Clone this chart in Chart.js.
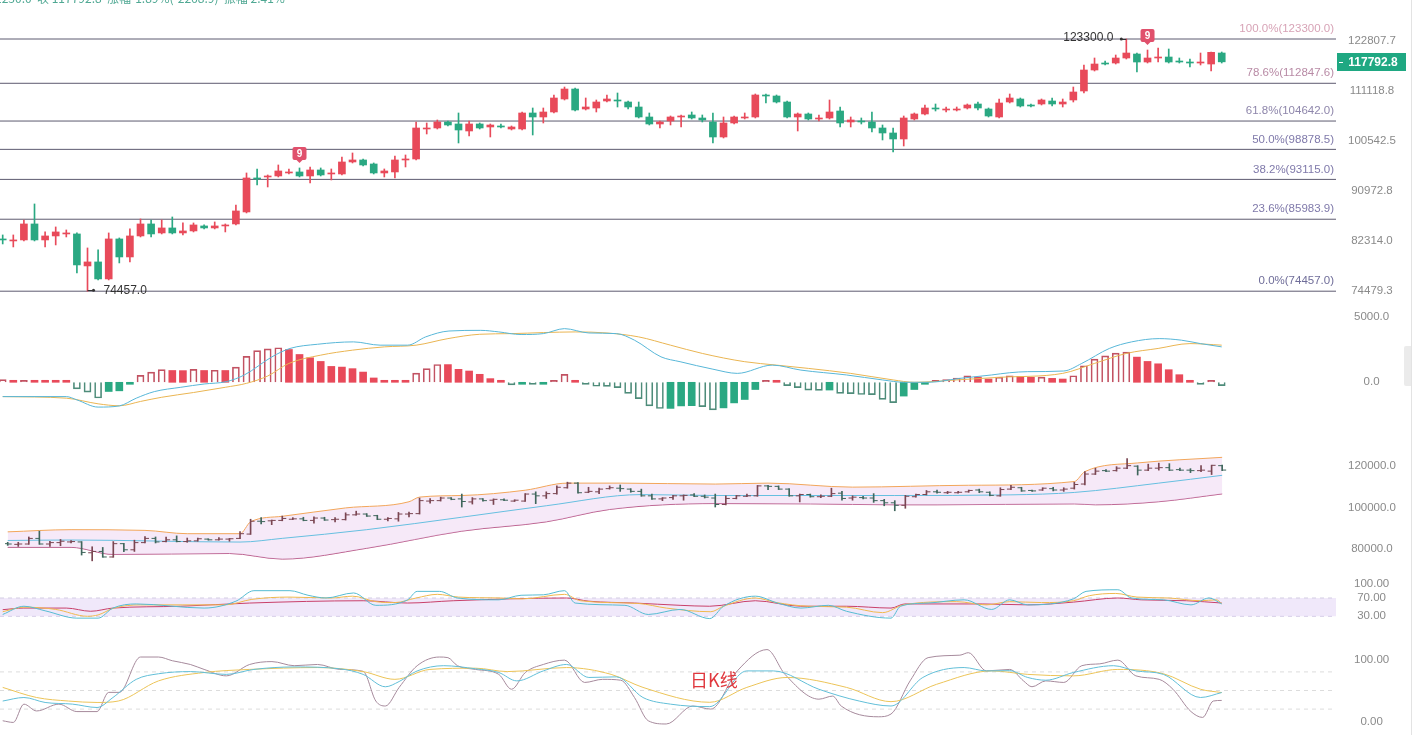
<!DOCTYPE html>
<html lang="zh">
<head>
<meta charset="utf-8">
<title>日K线</title>
<script src="https://cdn.jsdelivr.net/npm/chart.js@4.4.1/dist/chart.umd.min.js"></script>
<style>
  html, body { margin: 0; padding: 0; background: #fff; overflow: hidden; }
  #wrap { position: relative; width: 1421px; height: 735px; overflow: hidden; background: #fff; }
  .pane { position: absolute; left: 0; }
  .pane canvas { display: block; }
  #quote { position: absolute; left: -5px; top: -9px; font: 12px "Noto Sans CJK SC", "Liberation Sans", sans-serif; color: #4fa893; white-space: nowrap; line-height: 14px; }
  #period { position: absolute; left: 690px; top: 666px; font: 18px "Noto Sans CJK SC", sans-serif; color: #e0383e; }
  #rail { position: absolute; left: 1411px; top: 0; width: 1px; height: 735px; background: #e3e3e3; }
  #grip { position: absolute; left: 1404px; top: 346px; width: 7px; height: 40px; background: #ebebeb; border-radius: 2px 0 0 2px; }
</style>
</head>
<body>
<div id="wrap">
  <div class="pane" style="top:0"><canvas id="priceChart" width="1421" height="300"></canvas></div>
  <div class="pane" style="top:300px"><canvas id="macdChart" width="1421" height="130"></canvas></div>
  <div class="pane" style="top:430px"><canvas id="bollChart" width="1421" height="145"></canvas></div>
  <div class="pane" style="top:575px"><canvas id="rsiChart" width="1421" height="65"></canvas></div>
  <div class="pane" style="top:640px"><canvas id="kdjChart" width="1421" height="95"></canvas></div>
  <div id="quote">1230.0 &nbsp;收 117792.8 &nbsp;涨幅-1.89%(-2268.9) &nbsp;振幅 2.41%</div>
  <div id="period">日K线</div>
  <div id="rail"></div>
  <div id="grip"></div>
</div>
<script>
// daily candles (oldest first)
const opens = [82659,82330,82494,85176,82494,83157,83490,83490,78316,78945,
  76306,82659,79736,83157,85176,83657,84498,83657,83993,84836,
  84498,84836,85176,87244,93381,93568,93756,94320,94509,93756,
  94887,94131,94131,96417,96803,96032,94320,94509,96803,96996,
  102993,103199,104445,104028,102582,104028,103406,103613,102993,102993,
  106341,105494,106554,109359,111564,107194,107408,108923,109141,108705,
  107623,105494,104028,104654,105494,105917,105283,104445,101359,104236,
  105283,105494,110237,110017,108705,105494,106129,105073,105283,106767,
  104445,104654,104445,103199,102173,100954,105073,106129,107408,106980,
  106980,107408,108271,107194,105494,108705,109359,108055,108271,108923,
  108271,109141,111123,115888,117521,117521,118703,119656,117756,118703,
  118940,117992,117756,117521,117286,119895];
const highs = [83323,83323,85857,88651,83825,84667,84160,83657,81185,80861,
  83657,82825,84329,86029,85857,85857,86374,85347,85347,85006,
  85518,85176,88474,94320,95077,93943,95840,95077,95267,95458,
  95267,95077,97385,98168,96996,96224,95077,97580,97776,104445,
  104236,104863,104654,106341,104654,104236,104028,104028,103613,106554,
  107408,107408,110237,112011,111787,109578,109141,110237,110679,108923,
  108705,106341,104654,105705,105917,106554,105917,106341,105494,105705,
  106341,110458,110458,110237,108923,106341,106341,105917,109141,107623,
  105494,105283,106554,103820,103199,105705,106341,108055,108271,107623,
  107623,108271,108705,107408,109359,110458,109578,108271,109359,109578,
  109359,112011,117052,118703,117992,119417,123300,119895,120617,121100,
  120858,118703,118466,119895,120135,120135];
const lows = [81837,81348,82330,82330,81348,81674,82991,77227,74457,76154,
  76154,78787,78945,82991,82991,83490,83490,83323,83825,84329,
  84329,83825,85006,87070,92083,91715,93568,94131,93568,92452,
  93756,93009,93943,96224,95649,94131,93568,93381,95458,96803,
  101969,102993,103613,100150,101562,102993,101359,103199,102788,102788,
  101765,104236,106341,109141,106767,106980,106554,108705,107623,107194,
  105283,103820,103199,103820,103406,105073,104445,100150,101156,104028,
  105073,105283,108488,108488,105283,102582,104863,104654,105073,103406,
  103406,104028,102377,100753,98364,99551,104863,105917,106767,106554,
  106767,107194,106980,105494,105283,108488,107623,107623,108055,107839,
  107623,108705,110679,115656,117052,117286,118466,115425,117521,117756,
  117521,117521,116585,117052,115656,117521];
const closes = [82494,82494,85176,82494,83157,83825,83657,78473,78945,76306,
  82659,79736,83157,85176,83490,84498,83657,83993,85006,84498,
  84836,85006,87419,93381,93195,93756,94698,94509,93756,94887,
  93943,94320,96417,96803,95840,94320,94698,96803,96996,103199,
  103199,104445,103820,102788,104028,103199,103820,103406,103406,106341,
  105494,106554,109578,111564,106980,107623,108705,109359,108923,107623,
  105494,104028,104445,105494,105705,105283,104863,101359,104236,105494,
  105494,110237,110017,108705,105494,106129,105073,105283,106554,104236,
  104863,104445,103199,102173,100954,105283,106129,107408,107194,107194,
  107194,108055,107408,105705,108488,109578,107839,107839,109141,108271,
  108705,110901,115888,117286,117286,118703,119895,117756,118703,118940,
  117756,117756,117521,117756,120061.7,117792.8];

// fibonacci retracement between the 74457.0 low and the 123300.0 high
const fibPercents = [100.0, 78.6, 61.8, 50.0, 38.2, 23.6, 0.0];
const fibLevels = [123300.0, 112847.6, 104642.0, 98878.5, 93115.0, 85983.9, 74457.0];
const nineMarks = [28, 108];

// MACD histogram per candle, DIF / DEA read at points [candle, value]
const macdHist = [200,60,150,60,50,40,30,-500,-750,-1200,
  -700,-650,-100,530,780,960,900,890,990,900,
  920,900,1160,1970,2420,2550,2630,2500,2120,1870,
  1590,1210,1160,1040,780,330,80,60,50,700,
  1040,1360,1350,990,860,610,280,100,-200,-50,
  -60,-40,150,600,150,-50,-300,-310,-400,-850,
  -1250,-1800,-2000,-1990,-1800,-1780,-1850,-2100,-1950,-1570,
  -1310,-550,80,70,-250,-400,-600,-610,-590,-850,
  -860,-930,-940,-1300,-1550,-1050,-550,-50,50,200,
  330,500,400,250,400,500,450,380,400,300,
  250,500,1260,1770,2020,2220,2300,1920,1590,1410,
  960,580,150,-100,80,-250];
const difPts = [[0,-1090],[6,-1090],[7,-1340],[9,-1890],[11,-1800],[12.6,-1210],[14.3,-710],[16.8,-380],[19,-130],[21.1,50],
  [22.8,560],[25.4,1940],[27.1,2580],[29.7,2900],[33.1,3080],[35.6,2830],[38.2,2830],[39.9,3460],[42.1,3910],[45.1,3960],
  [46.8,3840],[48.9,3640],[51,3710],[53,4090],[55.3,3760],[57.9,3710],[59.6,3210],[62.1,1940],[63.9,1570],[67,1000],
  [69.3,680],[72.6,1310],[75.3,930],[79.6,560],[83,180],[85.1,0],[87.3,0],[90.3,300],[93.3,560],[95,730],
  [96.7,810],[100.1,860],[101.8,1440],[104.4,2580],[106.5,3080],[109.1,3330],[111.2,3210],[113,2950],[115,2700]];
const deaPts = [[0,-1090],[6,-1210],[9,-1640],[11,-1790],[13,-1460],[15,-1140],[18,-780],[21,-380],[23,-80],[25,480],
  [27,1440],[30,2070],[33,2450],[36,2700],[39,2830],[42,3330],[45,3660],[48,3710],[51,3790],[54,3840],
  [57,3760],[60,3460],[63,2830],[66,2200],[70,1570],[73,1310],[76,1060],[80,680],[84,180],[86,0],
  [90,180],[94,380],[100,680],[103,1440],[106,2200],[109,2580],[112,2950],[115,2830]];

// Bollinger bands [candle, value]
const bollUpper = [[0,88300],[6,89340],[13,89000],[17,87420],[22,87420],[23,93070],[26,95730],[32,99730],[38,102670],[39,104890],
  [43,105650],[49,108180],[53,111560],[58,111560],[67,111110],[72,111560],[80,109650],[91,110540],[101,112320],[102,117060],
  [107,121200],[115,123870]];
const bollMid = [[0,84180],[6,84400],[22,83430],[26,85200],[34,89340],[43,95290],[51,100760],[60,106090],[67,105650],[84,105650],
  [95,105960],[101,107110],[109,111560],[115,115290]];
const bollLower = [[0,80890],[6,80890],[10,77510],[21,77960],[26,75290],[34,80450],[43,88620],[51,93070],[57,98980],[67,101800],
  [76,101640],[84,101200],[88,101200],[101,101640],[103,101200],[109,102670],[115,106400]];

// RSI 6 / 12 / 24 [candle, value]
const rsi6 = [[0,34],[2,52],[4,42],[7,26],[9,26],[10.4,48],[12.6,57],[19,48],[22,63],[23.7,86],
  [27.1,86],[28.8,76],[30.5,70],[33.1,81],[35.2,54],[38.2,66],[39.1,84.5],[41.2,84.5],[42.9,70],[46.8,66],
  [48.9,76],[51,77],[53,86],[54,59],[58.7,54],[60.9,34],[63.9,45],[66.7,25],[68,52],[71,74],
  [73.1,59],[75.3,48],[77.9,54],[79.6,41],[83.8,26],[84.7,52],[87.3,59],[90.7,66],[93.3,45],[95,66],
  [96.7,55],[101,68],[102.2,84.5],[105.2,88],[106.5,70],[109.5,66],[112.1,55],[113.8,70],[115,57]];
const rsi12 = [[0,40],[2,50],[5,45],[8,30],[9,33],[10.5,48],[13,55],[17,55],[21,55],[23.5,67],
  [27,72],[31,70],[33,74],[35.2,62],[37,60],[39,70],[41,78],[43,72],[47,70],[49,68],
  [53,78],[54.5,64],[60,58],[62.6,48],[66.8,40],[68,52],[71,70],[73,60],[76,52],[79.6,50],
  [83,38],[85,55],[90,62],[92.8,55],[95,62],[98,60],[101,64],[102.5,75],[105,80],[107,72],
  [110,70],[113,64],[114.5,66],[115,58]];
const rsi24 = [[0,44.5],[2,48],[6,48],[8.3,41],[10.4,48],[16.8,52],[23.3,59],[34,64],[38.2,59],[42.5,64],
  [53.2,70],[55.3,63],[59.6,59],[63.9,54],[66.7,52],[71,64],[75.3,52],[79.6,52],[83.8,48],[85.1,57],
  [92.4,57],[96.7,55],[101,61],[105.2,70],[107.4,66],[111.7,64],[115,59]];

// KDJ [candle, value]
const kLine = [[0,33],[2,38.7],[4,30.7],[6.6,28],[8.9,22.6],[10.4,38.7],[12.6,68],[14.7,77],[17.7,80.5],[21.1,76],
  [23.7,84],[27.5,88],[31.8,85],[34,76],[36.1,56],[37.4,64.5],[39.1,81.6],[41.6,90],[44.6,85],[46.8,79],
  [48.5,65.5],[51,81.6],[53.2,92],[55.3,71],[57.9,72],[60.4,38.7],[63,28],[66.7,24],[70.2,81.6],[72.7,81.6],
  [77,52],[80.8,33],[83.8,25],[86.8,71],[90.7,87],[92.8,81.6],[95,82],[96.7,71],[98.4,66.6],[101,79],
  [104.8,90],[106.9,81.6],[109.5,76],[113,38.7],[115,46.7]];
const dLine = [[0,55],[3.2,38.7],[6.2,33],[8.9,30.7],[10.9,33],[14.7,65.5],[19,79],[23.3,84],[29.7,87],[34,80.5],
  [37,68],[40.3,84],[44.6,86],[47.6,80.5],[53.2,87],[57.4,76],[60.4,55],[66.7,31],[70.2,55],[74,71],
  [79.6,55],[83.8,32],[88.1,60],[93.3,81.6],[96.7,76],[101,73.6],[105.2,84],[109.5,77],[113,52],[115,46.7]];
const jLine = [[0,1.2],[1,-1.5],[2,28],[3.2,17],[5.3,28],[7,16],[8.9,16],[10,47],[11,47],[13,104],
  [14.7,104],[16,98],[17.7,92],[19,84],[21.1,73.6],[23.3,92],[25.4,96.6],[27.5,90],[29.7,92],[31.8,84],
  [34,81],[35.2,33],[36.1,25],[37.4,55],[39.1,90],[41.2,104],[42,103],[42.9,90],[44.6,84],[46.8,76],
  [48,52],[49.3,79],[51,92],[53,99],[54.9,63],[56.6,68],[58.3,66.6],[59.6,38.7],[60.9,1.2],[62.6,-4],
  [65.1,25],[66.8,20],[69.3,81.6],[72.1,116],[73.8,76],[77,36],[78.3,41],[79.1,25],[82.6,7.6],[83.8,12],
  [85.6,65.5],[87.3,103],[90.3,107],[91.1,111],[92.8,81.6],[95,84],[96.3,65.5],[97.1,56],[98.4,65.5],[100.1,63],
  [101.8,90],[103.5,93],[105.2,99],[106.9,73.6],[109.1,68],[110.4,52],[112.1,16],[113.2,6.6],[114.2,33],[115,34]];

// axis tick labels
const priceTicks = [122807.7, 111118.8, 100542.5, 90972.8, 82314.0, 74479.3];
const macdTicks = [0, 5000];
const bollTicks = [80000, 100000, 120000];
const rsiTicks = [30, 70, 100];
const rsiBand = [70, 30];
const kdjTicks = [0, 100];
const kdjLevels = [80, 50, 20];

const RED = '#e84a5a';
const GREEN = '#2aa882';
const FIB_LINE = '#5d5a70';
const FIB_TEXT = ['#d7a3b6', '#b88aa5', '#8e86ab', '#7f79aa', '#7f79aa', '#7f79aa', '#6f6d99'];
const X_MIN = -0.255, X_MAX = 125.78;

Chart.defaults.font.family = "'Liberation Sans', Arial, sans-serif";
Chart.defaults.font.size = 11.5;
Chart.defaults.animation = false;
Chart.defaults.plugins.legend.display = false;
Chart.defaults.plugins.tooltip.enabled = false;

const xAxis = () => ({ type: 'linear', min: X_MIN, max: X_MAX, offset: false, bounds: 'data', display: false });

function rightAxis(type, min, max, values, digits, pad) {
  return {
    type, min, max, bounds: 'data', position: 'right',
    grid: { display: false, drawTicks: false },
    border: { display: false },
    ticks: { color: '#8a8a8a', padding: pad, crossAlign: 'center', autoSkip: false, callback: v => Number(v).toFixed(digits) },
    afterBuildTicks: s => { s.ticks = values.map(v => ({ value: v })); },
    afterFit: s => { s.width = 85; s.paddingTop = 0; s.paddingBottom = 0; }
  };
}

const toPts = arr => arr.map(([x, y]) => ({ x, y }));
function curve(arr, color, extra) {
  return Object.assign({ type: 'line', data: toPts(arr), borderColor: color, borderWidth: 1, pointRadius: 0,
    cubicInterpolationMode: 'monotone', fill: false }, extra || {});
}
function level(v, color, extra) {
  return Object.assign({ type: 'line', data: [{ x: X_MIN, y: v }, { x: X_MAX, y: v }], borderColor: color,
    borderWidth: 1, pointRadius: 0, fill: false }, extra || {});
}
const baseOptions = (yScale) => ({ responsive: false, devicePixelRatio: 1, layout: { padding: 0 },
  scales: { x: xAxis(), y: yScale } });

const idx = closes.map((_, i) => i);
const up = closes.map((c, i) => c >= opens[i]);
const candleColors = up.map(u => u ? RED : GREEN);

// labels, markers and last price tag on the main pane
const priceMarks = {
  id: 'priceMarks',
  afterDatasetsDraw(chart) {
    const { ctx, chartArea: area, scales: { x, y } } = chart;
    ctx.save();
    ctx.font = '11.5px "Liberation Sans", Arial, sans-serif';
    ctx.textAlign = 'right';
    ctx.textBaseline = 'middle';
    fibLevels.forEach((v, k) => {
      ctx.fillStyle = FIB_TEXT[k];
      ctx.fillText(fibPercents[k].toFixed(1) + '%(' + v.toFixed(1) + ')', area.right - 2, y.getPixelForValue(v) - 10);
    });

    ctx.fillStyle = '#333';
    ctx.strokeStyle = '#333';
    ctx.lineWidth = 1;
    const hi = highs.indexOf(Math.max(...highs));
    const hx = x.getPixelForValue(hi), hy = y.getPixelForValue(highs[hi]);
    ctx.beginPath(); ctx.moveTo(hx - 5, Math.round(hy) + 0.5); ctx.lineTo(hx, Math.round(hy) + 0.5); ctx.stroke();
    ctx.beginPath(); ctx.arc(hx - 5, hy, 1.5, 0, Math.PI * 2); ctx.fill();
    ctx.font = '12px "Liberation Sans", Arial, sans-serif';
    ctx.fillText(highs[hi].toFixed(1), hx - 13, hy - 1);

    const lo = lows.indexOf(Math.min(...lows));
    const lx = x.getPixelForValue(lo), ly = y.getPixelForValue(lows[lo]);
    ctx.beginPath(); ctx.moveTo(lx, Math.round(ly) - 0.5); ctx.lineTo(lx + 6, Math.round(ly) - 0.5); ctx.stroke();
    ctx.beginPath(); ctx.arc(lx + 6, ly - 1, 1.5, 0, Math.PI * 2); ctx.fill();
    ctx.textAlign = 'left';
    ctx.fillText(lows[lo].toFixed(1), lx + 16, ly - 1);

    ctx.textAlign = 'center';
    ctx.font = 'bold 10px "Liberation Sans", Arial, sans-serif';
    nineMarks.forEach(i => {
      const mx = x.getPixelForValue(i), top = y.getPixelForValue(highs[i]) - 21;
      ctx.fillStyle = '#e0506c';
      ctx.beginPath(); ctx.roundRect(mx - 7, top, 14, 13, 2); ctx.fill();
      ctx.beginPath(); ctx.moveTo(mx - 3, top + 13); ctx.lineTo(mx, top + 16); ctx.lineTo(mx + 3, top + 13); ctx.fill();
      ctx.fillStyle = '#fff';
      ctx.fillText('9', mx, top + 7);
    });

    const last = closes[closes.length - 1];
    const py = y.getPixelForValue(last);
    ctx.fillStyle = '#1fa882';
    ctx.fillRect(area.right + 1, Math.round(py) - 9, 69, 18);
    ctx.strokeStyle = '#fff';
    ctx.beginPath(); ctx.moveTo(area.right + 3, Math.round(py) + 0.5); ctx.lineTo(area.right + 7, Math.round(py) + 0.5); ctx.stroke();
    ctx.fillStyle = '#fff';
    ctx.font = 'bold 12px "Liberation Sans", Arial, sans-serif';
    ctx.fillText(last.toFixed(1), area.right + 37, py + 0.5);
    ctx.restore();
  }
};

new Chart(document.getElementById('priceChart'), {
  type: 'bar',
  data: {
    datasets: [
      { data: idx.map(i => ({ x: i, y: [opens[i], closes[i]] })), backgroundColor: candleColors,
        barThickness: 7, minBarLength: 1, grouped: false, order: 0 },
      { data: idx.map(i => ({ x: i, y: [lows[i], highs[i]] })), backgroundColor: candleColors,
        barThickness: 1, grouped: false, order: 1 },
      ...fibLevels.map(v => level(v, FIB_LINE, { order: 2 }))
    ]
  },
  options: baseOptions(rightAxis('logarithmic', 73158, 133303, priceTicks, 1, 12)),
  plugins: [priceMarks]
});

// MACD: hollow bars while the histogram is growing away from zero
const hollow = macdHist.map((h, i) => {
  const prev = i ? macdHist[i - 1] : 0;
  return (h >= 0 && h > prev) || (h < 0 && h < prev);
});
new Chart(document.getElementById('macdChart'), {
  type: 'bar',
  data: {
    datasets: [
      curve(difPts, '#58b7d8', { order: 0 }),
      curve(deaPts, '#eab552', { order: 0 }),
      { data: idx.map(i => ({ x: i, y: macdHist[i] })),
        backgroundColor: macdHist.map((h, i) => hollow[i] ? 'rgba(255,255,255,0)' : (h >= 0 ? RED : GREEN)),
        borderColor: macdHist.map((h, i) => h >= 0 ? (hollow[i] ? '#c25262' : RED) : (hollow[i] ? '#4e8c7a' : GREEN)),
        borderWidth: hollow.map(hw => hw ? 1 : 0),
        barThickness: 7, minBarLength: 2, grouped: false, order: 1 }
    ]
  },
  options: baseOptions(rightAxis('linear', -3636, 6273, macdTicks, 1, 18))
});

// Bollinger pane with OHLC bars
const tickColors = up.map(u => u ? '#7a4652' : '#3f665c');
new Chart(document.getElementById('bollChart'), {
  type: 'bar',
  data: {
    datasets: [
      curve(bollUpper, '#f2a65a', { order: 2, fill: '+2', backgroundColor: 'rgba(236,206,240,0.45)' }),
      curve(bollMid, '#66bfe0', { order: 1 }),
      curve(bollLower, '#b44f7f', { order: 2 }),
      { data: idx.map(i => ({ x: i, y: [lows[i], highs[i]] })), backgroundColor: tickColors,
        barThickness: 1, grouped: false, order: 0 },
      { type: 'line', showLine: false, data: idx.map(i => ({ x: i, y: opens[i] })), pointStyle: 'dash',
        pointRotation: 180, pointRadius: 4, pointBorderWidth: 1, pointBorderColor: tickColors, order: 0 },
      { type: 'line', showLine: false, data: idx.map(i => ({ x: i, y: closes[i] })), pointStyle: 'dash',
        pointRotation: 0, pointRadius: 4, pointBorderWidth: 1, pointBorderColor: tickColors, order: 0 }
    ]
  },
  options: baseOptions(rightAxis('linear', 70089, 134533, bollTicks, 1, 12))
});

new Chart(document.getElementById('rsiChart'), {
  type: 'line',
  data: {
    datasets: [
      curve(rsi6, '#56bcd2', { order: 0 }),
      curve(rsi12, '#f0b94e', { order: 0 }),
      curve(rsi24, '#c8406a', { order: 0 }),
      level(rsiBand[0], '#d4cde4', { borderDash: [4, 4], fill: '+1', backgroundColor: 'rgba(226,210,246,0.5)', order: 1 }),
      level(rsiBand[1], '#d4cde4', { borderDash: [4, 4], order: 1 })
    ]
  },
  options: baseOptions(rightAxis('linear', -21.8, 120.27, rsiTicks, 2, 18))
});

new Chart(document.getElementById('kdjChart'), {
  type: 'line',
  data: {
    datasets: [
      curve(kLine, '#62bfd8', { order: 0 }),
      curve(dLine, '#ecc458', { order: 0 }),
      curve(jLine, '#a68a9c', { order: 0 }),
      ...kdjLevels.map(v => level(v, '#dcdcdc', { borderDash: [4, 4], order: 1 }))
    ]
  },
  options: baseOptions(rightAxis('linear', -21.77, 131.45, kdjTicks, 2, 18))
});
</script>
</body>
</html>
